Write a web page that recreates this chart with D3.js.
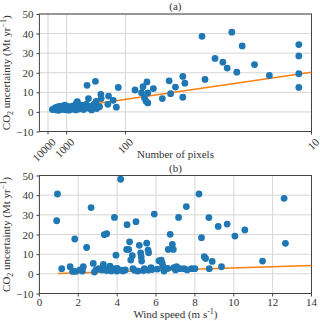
<!DOCTYPE html>
<html>
<head>
<meta charset="utf-8">
<script src="https://cdn.jsdelivr.net/npm/d3@7"></script>
<style>
  body { margin: 0; background: #fff; }
  text { font-family: "Liberation Serif", serif; fill: #333; }
  .axis path { stroke: #444; }
  .axis line { stroke: #444; }
  .grid line { stroke: #d6d6d6; stroke-width: 1; }
</style>
</head>
<body>
<svg width="320" height="321"></svg>
<script>
// panel (a): number of pixels vs CO2 uncertainty
const pixelsA = [4400,3500,3000,2600,2400,2200,2000,1900,1750,1600,1500,1400,1300,1250,1150,1100,1050,1000,950,900,
  850,800,760,720,690,650,620,590,560,540,520,500,480,460,440,420,400,380,360,340,320,300,280,260,250,240,
  513,270,225,308,326,236,230,205,194,196,158,155,136,125,119,81,57,63,65,67,63,71,69,64,49,43,44,40,35,36,36,
  27,28,24,22,21,19,20,18,16,14,11,11,11,11];
const uncA = [1.2,1.5,2.0,1.0,2.4,1.6,0.8,2.8,1.9,1.2,2.3,3.0,1.5,2.6,3.4,1.1,2.0,2.9,1.4,2.4,
  0.9,1.8,2.7,1.3,2.2,3.1,1.6,2.5,1.0,4.5,2.0,3.3,1.5,2.6,1.9,3.5,2.4,1.2,2.8,3.8,2.0,3.0,1.5,2.3,3.6,4.2,
  5.3,1.0,1.7,6.8,13.6,15.6,5.4,2.7,6.8,9.0,3.9,8.1,5.9,2.4,12.5,11.2,11.9,4.6,5.4,7.1,9.7,9.8,12.9,15.3,6.8,9.3,15.9,12.7,14.7,7.5,18.1,
  16.6,38.6,27.3,25.4,22.4,20.3,40.7,33.7,24.2,18.6,34.4,28.6,19.5,12.5];
const fitPixelsA = [4400, 10];
const fitUncA = [1.0, 20.2];
const pixelTicks = [10000, 1000, 100, 10];

// panel (b): wind speed vs CO2 uncertainty
const windB = [0.93,0.89,1.15,1.58,1.71,1.82,1.87,2.09,2.21,2.26,2.43,2.66,2.77,2.83,2.91,3.05,3.22,3.29,3.34,3.46,
  3.46,3.63,3.70,3.80,3.86,3.94,3.98,4.08,4.18,4.22,4.42,4.49,4.51,4.59,4.64,4.70,4.78,4.81,4.97,5.07,
  5.14,5.21,5.24,5.26,5.35,5.52,5.59,5.62,5.60,5.74,5.91,6.07,6.15,6.27,6.32,6.37,6.41,6.63,6.73,6.84,
  6.89,6.92,7.06,7.16,7.23,7.44,7.56,7.83,8.00,8.21,8.34,8.48,8.55,8.72,8.74,8.89,9.20,9.37,9.66,10.06,
  10.57,11.48,12.59,12.66,3.5,4.0,4.3,4.9,5.4,5.8,6.6,7.0,7.6];
const uncB = [40.6,27.0,2.6,3.6,1.2,17.7,1.2,2.0,1.4,3.6,13.4,33.7,5.3,0.9,2.0,2.6,1.9,4.8,19.9,20.4,
  1.7,3.9,1.5,2.6,28.7,9.5,1.4,1.9,48.1,1.9,2.0,12.4,25.0,12.4,16.3,7.0,9.2,2.6,26.5,1.4,
  14.5,10.7,8.5,6.5,1.7,15.6,12.1,10.7,1.9,3.2,30.4,2.4,6.6,7.0,5.3,3.6,1.4,12.4,20.1,15.0,
  12.4,3.2,3.6,28.7,2.6,2.6,34.2,2.6,2.6,40.6,18.4,8.7,7.8,28.6,2.6,6.3,24.1,3.6,25.3,19.2,
  22.3,6.5,38.4,15.5,2.4,2.8,1.5,1.8,2.6,2.2,2.7,2.0,2.0];
const fitWindB = [0.95, 14];
const fitUncB = [0.2, 4.3];
const windTicks = [0, 2, 4, 6, 8, 10, 12, 14];

const yTicks = [-10, 0, 10, 20, 30, 40, 50];

const svg = d3.select('svg');
const left = 39.4, right = 311.5;
const blue = '#1f77b4', orange = '#ff7f0e';

function panel(top, bottom, xPos, xTickVals, xTickFmt, xs, ys, fx, fy, title, xLabel, rotate) {
  const g = svg.append('g');
  const y = d3.scaleLinear().domain([-10, 50]).range([bottom, top]);

  // grid
  const grid = g.append('g').attr('class', 'grid');
  grid.selectAll('.h').data(yTicks).enter().append('line')
    .attr('x1', left).attr('x2', right)
    .attr('y1', d => y(d)).attr('y2', d => y(d));
  grid.selectAll('.v').data(xTickVals).enter().append('line')
    .attr('x1', d => xPos(d)).attr('x2', d => xPos(d))
    .attr('y1', top).attr('y2', bottom);

  // frame
  g.append('rect')
    .attr('x', left).attr('y', top)
    .attr('width', right - left).attr('height', bottom - top)
    .attr('fill', 'none').attr('stroke', '#444').attr('stroke-width', 1);

  // y axis
  const yAxis = d3.axisLeft(y).tickValues(yTicks).tickSize(3).tickPadding(3)
    .tickFormat(d => d < 0 ? '\u2212' + Math.abs(d) : d);
  const yAxisG = g.append('g').attr('class', 'axis')
    .attr('transform', `translate(${left},0)`).call(yAxis);
  yAxisG.select('.domain').remove();
  yAxisG.selectAll('text').style('font-size', '11px').style('font-family', '"Liberation Serif", serif');

  // x axis
  const xAxisG = g.append('g').attr('class', 'axis')
    .attr('transform', `translate(0,${bottom})`);
  const ticks = xAxisG.selectAll('.tick').data(xTickVals).enter().append('g')
    .attr('transform', d => `translate(${xPos(d)},0)`);
  ticks.append('line').attr('y2', 3);
  if (rotate) {
    ticks.append('text')
      .attr('transform', 'translate(3,6) rotate(-45)')
      .attr('text-anchor', 'end')
      .attr('dy', '0.7em')
      .style('font-size', '11px')
      .text(xTickFmt);
  } else {
    ticks.append('text')
      .attr('y', 5).attr('dy', '0.71em')
      .attr('text-anchor', 'middle')
      .style('font-size', '11px')
      .text(xTickFmt);
  }

  // fit line
  const pts = fx.map((d, i) => [xPos(d), y(fy[i])]);
  g.append('path')
    .attr('d', d3.line()(pts))
    .attr('fill', 'none').attr('stroke', orange).attr('stroke-width', 1.5);

  // points
  g.selectAll('circle').data(xs.map((d, i) => [d, ys[i]])).enter().append('circle')
    .attr('cx', d => xPos(d[0])).attr('cy', d => y(d[1]))
    .attr('r', 3.4).attr('fill', blue);

  // titles and labels
  g.append('text')
    .attr('x', (left + right) / 2).attr('y', top - 4)
    .attr('text-anchor', 'middle').style('font-size', '11px').text(title);
  g.append('text')
    .attr('x', (left + right) / 2).attr('y', bottom + (rotate ? 26 : 24))
    .attr('text-anchor', 'middle').style('font-size', '11px').text(xLabel);

  const yl = g.append('text')
    .attr('transform', `translate(10,${(top + bottom) / 2}) rotate(-90)`)
    .attr('text-anchor', 'middle').style('font-size', '11px');
  yl.append('tspan').text('CO');
  yl.append('tspan').attr('dy', 2.5).style('font-size', '8px').text('2');
  yl.append('tspan').attr('dy', -2.5).text(' uncertainty (Mt yr');
  yl.append('tspan').attr('dy', -4).style('font-size', '8px').text('\u22121');
  yl.append('tspan').attr('dy', 4).text(')');
}

// panel (a): x axis linear in 1/sqrt(pixels)
const uScale = d3.scaleLinear().domain([0, 1 / Math.sqrt(10)]).range([left, right]);
const xPix = n => uScale(1 / Math.sqrt(n));
panel(14, 131.5, xPix, pixelTicks, d => d, pixelsA, uncA, fitPixelsA, fitUncA,
  '(a)', 'Number of pixels', true);

// panel (b)
const xWind = d3.scaleLinear().domain([0, 14]).range([left, right]);
panel(175.5, 293.5, xWind, windTicks, d => d, windB, uncB, fitWindB, fitUncB,
  '(b)', '', false);

// wind label with superscript
const wl = svg.append('text')
  .attr('x', (left + right) / 2).attr('y', 317.5)
  .attr('text-anchor', 'middle').style('font-size', '11px');
wl.append('tspan').text('Wind speed (m s');
wl.append('tspan').attr('dy', -4).style('font-size', '8px').text('-1');
wl.append('tspan').attr('dy', 4).text(')');
</script>
</body>
</html>
